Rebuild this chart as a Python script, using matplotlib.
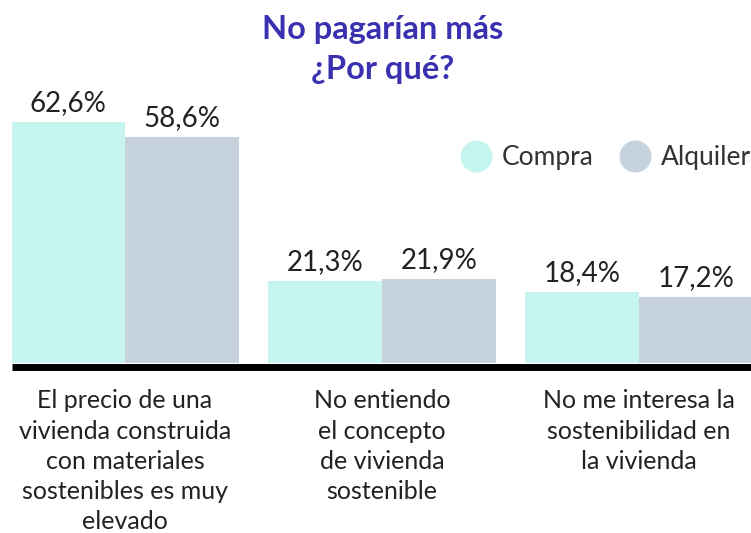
import matplotlib
matplotlib.use("Agg")
import matplotlib.pyplot as plt
import matplotlib.transforms as mtransforms
from matplotlib.lines import Line2D
import numpy as np

categories = [
    "El precio de una\nvivienda construida\ncon materiales\nsostenibles es muy\nelevado",
    "No entiendo\nel concepto\nde vivienda\nsostenible",
    "No me interesa la\nsostenibilidad en\nla vivienda",
]
series_names = ["Compra", "Alquiler"]
compra = [62.6, 21.3, 18.4]
alquiler = [58.6, 21.9, 17.2]
compra_labels = ["62,6%", "21,3%", "18,4%"]
alquiler_labels = ["58,6%", "21,9%", "17,2%"]

c_compra = "#c6f4ef"
c_alq = "#c6d3de"
title_color = "#3a31b0"
text_color = "#222222"

plt.rcParams['font.family'] = ['Lato', 'DejaVu Sans']

W, H = 751, 533
fig = plt.figure(figsize=(W / 100, H / 100), dpi=100)
fig.patch.set_facecolor("white")

ax_left = 12 / W
ax_right = 751 / W
ax_bottom = (H - 363) / H
ax_top = (H - 55) / H
ax = fig.add_axes([ax_left, ax_bottom, ax_right - ax_left, ax_top - ax_bottom])

x = np.arange(len(categories))
bw = 0.443
ax.bar(x - bw / 2, compra, width=bw, color=c_compra, edgecolor="none")
ax.bar(x + bw / 2, alquiler, width=bw, color=c_alq, edgecolor="none")

for i in range(len(categories)):
    ax.annotate(compra_labels[i], xy=(x[i] - bw / 2, compra[i]), xytext=(0, 8),
                textcoords="offset points", ha="center", va="baseline",
                fontsize=20, color=text_color)
    ax.annotate(alquiler_labels[i], xy=(x[i] + bw / 2, alquiler[i]), xytext=(0, 8),
                textcoords="offset points", ha="center", va="baseline",
                fontsize=20, color=text_color)

ax.set_xlim(-0.44, 2.436)
ax.set_ylim(0, 80)
ax.axis("off")
blend = mtransforms.blended_transform_factory(ax.transAxes, ax.transData)
ax.plot([0, 1], [-0.95, -0.95], transform=blend, color="black", linewidth=5,
        solid_capstyle="butt", clip_on=False)

for i, lab in enumerate(categories):
    ax.annotate(lab, xy=(x[i], 0), xycoords="data", xytext=(0, -19), textcoords="offset points",
                ha="center", va="top", fontsize=18, color=text_color, linespacing=1.38)

fig.text(383 / W, 1 - 30 / H, "No pagarían más", ha="center", va="center",
         fontsize=23.5, fontweight="bold", color=title_color)
fig.text(383 / W, 1 - 69 / H, "¿Por qué?", ha="center", va="center",
         fontsize=23.5, fontweight="bold", color=title_color)

handles = [Line2D([], [], linestyle="none", marker="o", markersize=23,
                  markerfacecolor=c, markeredgecolor="none") for c in (c_compra, c_alq)]
leg = fig.legend(handles, series_names, loc="center left",
                 bbox_to_anchor=(460 / W, 1 - 158 / H), ncol=2, frameon=False,
                 fontsize=19, handletextpad=0.4, columnspacing=0.95, handlelength=1.2,
                 borderaxespad=0, borderpad=0)
for t in leg.get_texts():
    t.set_color("#333333")

fig.savefig("out.png", dpi=100, facecolor="white")
